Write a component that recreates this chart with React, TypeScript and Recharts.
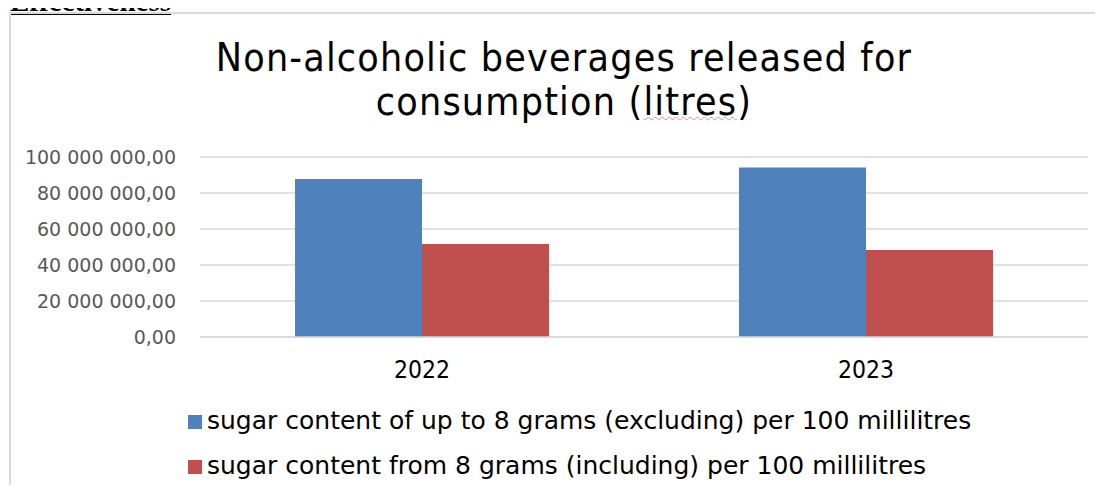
import { Bar, BarChart, CartesianGrid, XAxis, YAxis } from 'recharts'

const years = ['2022', '2023']
const lowSugar = [87800000, 94100000]
const highSugar = [51700000, 48300000]
const yTicks = [0, 20000000, 40000000, 60000000, 80000000, 100000000]

const seriesList = [
  { key: 'low', label: 'sugar content of up to 8 grams (excluding) per 100 millilitres', color: '#4f81bd', values: lowSugar },
  { key: 'high', label: 'sugar content from 8 grams (including) per 100 millilitres', color: '#c0504d', values: highSugar },
]

const chartData = years.map((year, i) => ({ name: year, low: lowSugar[i], high: highSugar[i] }))

const condensed = "'DejaVu Sans Condensed', 'DejaVu Sans', sans-serif"
const verdanaLike = "'DejaVu Sans', Verdana, sans-serif"

function formatNumber(value: number) {
  const whole = Math.round(value)
    .toString()
    .replace(/\B(?=(\d{3})+(?!\d))/g, ' ')
  return `${whole},00`
}

function YearTick({ x, y, payload }: any) {
  return (
    <text
      x={x}
      y={y + 39}
      textAnchor="middle"
      fill="#000"
      fontSize={24.5}
      style={{ fontFamily: condensed, fontStretch: 'condensed' }}
    >
      {payload.value}
    </text>
  )
}

export default function App() {
  return (
    <div
      style={{
        position: 'relative',
        width: 1103,
        height: 493,
        margin: -8,
        overflow: 'hidden',
        background: '#fff',
      }}
    >
      <div
        style={{
          position: 'absolute',
          left: 10,
          top: -13,
          fontFamily: "'Liberation Serif', 'Times New Roman', serif",
          fontWeight: 'bold',
          fontSize: 29,
          lineHeight: '29px',
          textDecoration: 'underline',
          whiteSpace: 'nowrap',
        }}
      >
        Effectiveness
      </div>
      <div
        style={{
          position: 'absolute',
          left: 9,
          top: 12,
          width: 1200,
          height: 600,
          borderLeft: '2px solid #d9d9d9',
          borderTop: '2px solid #d9d9d9',
        }}
      />
      <div
        style={{
          position: 'absolute',
          left: 0,
          top: 36,
          width: 1128,
          textAlign: 'center',
          fontFamily: condensed,
          fontStretch: 'condensed',
          fontSize: 39,
          letterSpacing: 1.2,
          lineHeight: '44px',
          color: '#000',
        }}
      >
        Non-alcoholic beverages released for
        <br />
        consumption (
        <span
          style={{
            textDecorationLine: 'underline',
            textDecorationStyle: 'wavy',
            textDecorationColor: 'rgba(230,90,90,0.7)',
            textDecorationThickness: 1,
          }}
        >
          litres
        </span>
        )
      </div>
      <div style={{ position: 'absolute', left: 0, top: 0 }}>
        <BarChart
          width={1103}
          height={493}
          data={chartData}
          margin={{ top: 157, right: 15, bottom: 116, left: 0 }}
          barCategoryGap={95}
          barGap={0}
        >
          <CartesianGrid vertical={false} stroke="#d9d9d9" strokeWidth={1.5} />
          <XAxis
            dataKey="name"
            height={40}
            tickLine={false}
            tickSize={0}
            axisLine={{ stroke: '#d9d9d9', strokeWidth: 1.5 }}
            tick={<YearTick />}
          />
          <YAxis
            width={200}
            domain={[0, 100000000]}
            ticks={yTicks}
            tickFormatter={formatNumber}
            axisLine={false}
            tickLine={false}
            tickSize={0}
            tickMargin={24}
            tick={{ fill: '#595959', fontSize: 19, fontFamily: verdanaLike }}
          />
          {seriesList.map((s) => (
            <Bar key={s.key} dataKey={s.key} name={s.label} fill={s.color} isAnimationActive={false} />
          ))}
        </BarChart>
      </div>
      {seriesList.map((s, i) => (
        <div
          key={s.key}
          style={{
            position: 'absolute',
            left: 207,
            top: 406 + i * 45,
            whiteSpace: 'nowrap',
            fontFamily: verdanaLike,
            fontSize: 25,
            lineHeight: '30px',
            color: '#000',
          }}
        >
          <span
            style={{
              position: 'absolute',
              left: -19,
              top: 9,
              width: 14,
              height: 14,
              background: s.color,
            }}
          />
          {s.label}
        </div>
      ))}
    </div>
  )
}
